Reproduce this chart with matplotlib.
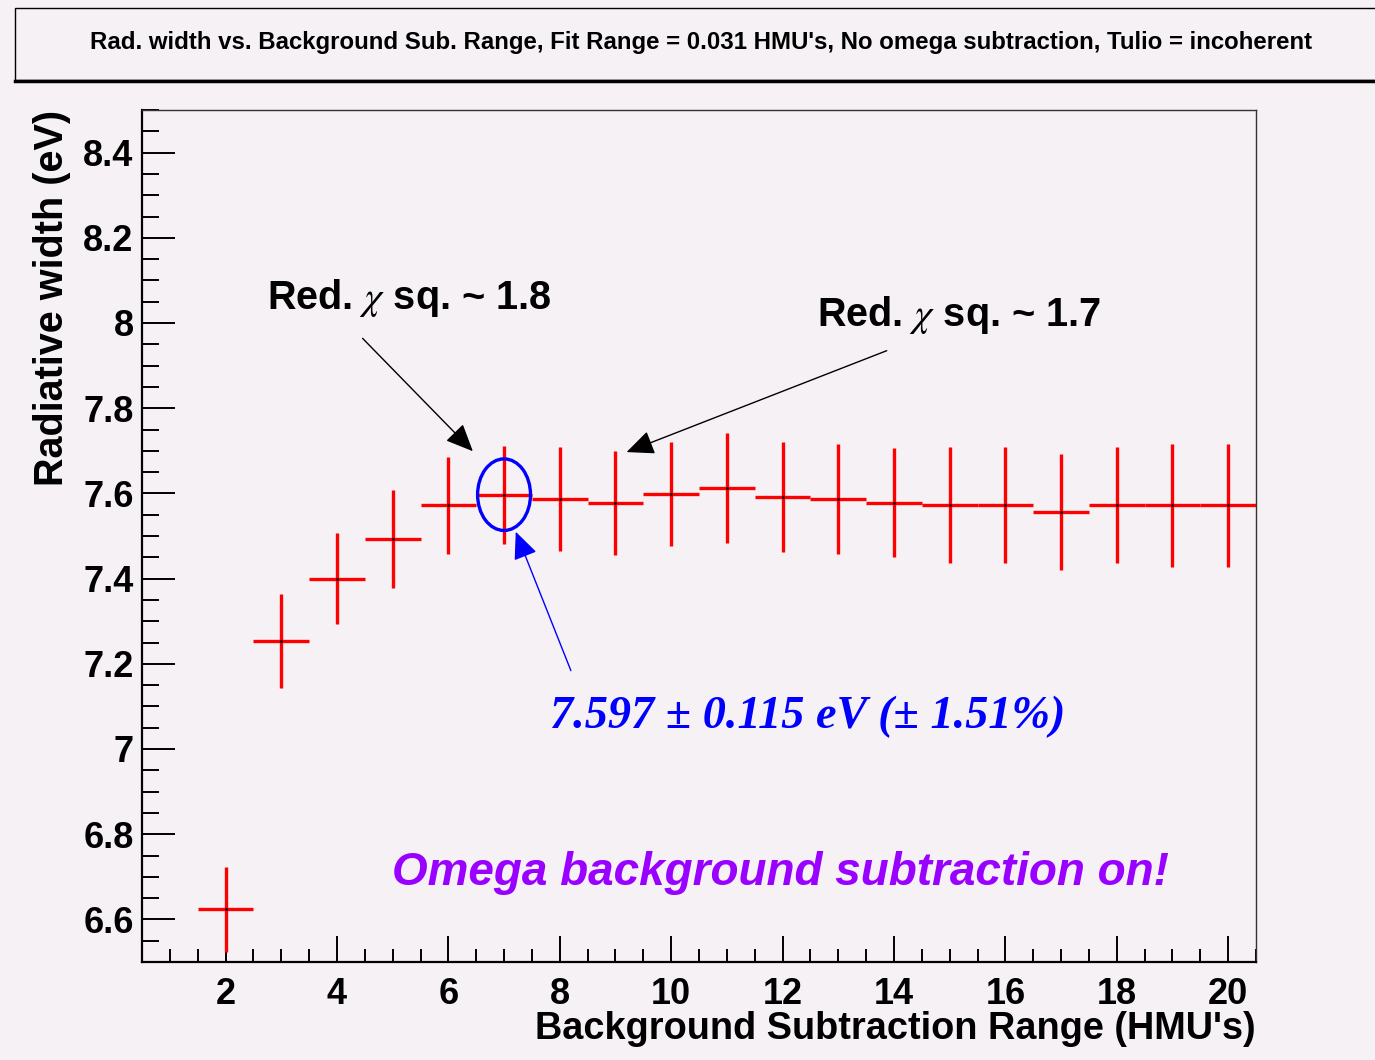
import numpy as np
import matplotlib
matplotlib.use("Agg")
import matplotlib.pyplot as plt
from matplotlib.patches import Ellipse, Rectangle
from matplotlib.ticker import MultipleLocator, FormatStrFormatter

# data
bg_range = [2, 3, 4, 5, 6, 7, 8, 9, 10, 11, 12, 13, 14, 15, 16, 17, 18, 19, 20]
rad_width = [6.624, 7.253, 7.400, 7.492, 7.572, 7.597, 7.586, 7.578, 7.598, 7.612,
             7.592, 7.587, 7.578, 7.572, 7.572, 7.556, 7.572, 7.572, 7.572]
rad_err = [0.100, 0.110, 0.106, 0.115, 0.114, 0.115, 0.122, 0.122, 0.122, 0.129,
           0.129, 0.129, 0.128, 0.136, 0.136, 0.136, 0.136, 0.144, 0.144]
bin_half = 0.5

title = ("Rad. width vs. Background Sub. Range, Fit Range = 0.031 HMU's, "
         "No omega subtraction, Tulio = incoherent")
chosen = 7  # highlighted bin

bg = "#f5f1f5"
plt.rcParams["mathtext.fontset"] = "stix"
sans = "Liberation Sans"
serif = "Liberation Serif"

fig = plt.figure(figsize=(13.75, 10.6), dpi=100, facecolor=bg)
ax = fig.add_axes([142/1375, 1 - 962/1060, 1114/1375, 852/1060])
ax.set_facecolor(bg)

ax.errorbar(bg_range, rad_width, yerr=rad_err, xerr=bin_half, fmt='.', color='black',
            markersize=2, ecolor='#ff0000', elinewidth=2.4, capsize=0, zorder=3)

ax.set_xlim(0.5, 20.5)
ax.set_ylim(6.5, 8.5)
ax.xaxis.set_major_locator(MultipleLocator(2))
ax.xaxis.set_minor_locator(MultipleLocator(0.5))
ax.yaxis.set_major_locator(MultipleLocator(0.2))
ax.yaxis.set_minor_locator(MultipleLocator(0.05))
ax.yaxis.set_major_formatter(FormatStrFormatter('%g'))
ax.xaxis.set_major_formatter(FormatStrFormatter('%g'))

ax.tick_params(axis='x', which='major', direction='in', length=19, width=1.4, pad=11,
               labelsize=26)
ax.tick_params(axis='x', which='minor', direction='in', length=9.5, width=1.4)
ax.tick_params(axis='y', which='major', direction='in', length=24, width=1.4, pad=6,
               labelsize=26)
ax.tick_params(axis='y', which='minor', direction='in', length=12, width=1.4)
for lab in ax.get_xticklabels() + ax.get_yticklabels():
    lab.set_fontfamily(sans)
    lab.set_fontweight('bold')

for side in ['left', 'bottom']:
    ax.spines[side].set_linewidth(1.6)
for side in ['top', 'right']:
    ax.spines[side].set_linewidth(1.0)
    ax.spines[side].set_color('#333333')

ax.set_xlabel("Background Subtraction Range (HMU's)", loc='right', fontsize=27.3,
              fontweight='bold', fontfamily=sans)
ax.xaxis.set_label_coords(1.0, -0.058)
ax.set_ylabel("Radiative width (eV)", loc='top', fontsize=28.5, fontweight='bold',
              fontfamily=sans)
ax.yaxis.set_label_coords(-0.064, 1.0)

# annotations
i = bg_range.index(chosen)
ax.add_patch(Ellipse((bg_range[i], rad_width[i]), 0.95, 0.168, fill=False,
                     edgecolor='#0000ff', linewidth=2.4, zorder=4))

black_arrow = dict(arrowstyle='-|>,head_length=1.7,head_width=0.75', color='black',
                   linewidth=1.0, shrinkA=0, shrinkB=0)
ax.annotate("", xy=(6.44, 7.699), xytext=(4.46, 7.964), arrowprops=black_arrow)
ax.annotate("", xy=(9.20, 7.697), xytext=(13.87, 7.935), arrowprops=black_arrow)
blue_arrow = dict(black_arrow, color='#0000ff')
ax.annotate("", xy=(7.21, 7.510), xytext=(8.20, 7.184), arrowprops=blue_arrow)

chi_label = r"Red. $\chi$ sq. ~ {}"
ax.text(2.74, 8.032, chi_label.format("1.8"), fontsize=28.5, fontweight='bold',
        fontfamily=sans, va='baseline', ha='left')
ax.text(12.62, 7.992, chi_label.format("1.7"), fontsize=28.5, fontweight='bold',
        fontfamily=sans, va='baseline', ha='left')
ax.text(7.82, 7.050, "7.597 \u00b1 0.115 eV (\u00b1 1.51%)", fontsize=33.3,
        fontweight='bold', fontstyle='italic', fontfamily=serif, color='#0000ff',
        va='baseline', ha='left')
ax.text(4.98, 6.681, "Omega background subtraction on!", fontsize=33,
        fontweight='bold', fontstyle='italic', fontfamily=sans, color='#9900ff',
        va='baseline', ha='left')

# title box
fig.patches.append(Rectangle((15/1375, 1 - 80/1060), 1.02, 72/1060,
                             transform=fig.transFigure, facecolor=bg,
                             edgecolor='black', linewidth=1.0))
fig.lines.append(plt.Line2D([15/1375, 1.0], [1 - 81/1060, 1 - 81/1060],
                            transform=fig.transFigure, color='black', linewidth=2.5))
fig.text(701/1375, 1 - 43/1060, title, ha='center', va='center', fontsize=17.3,
         fontweight='bold', fontfamily=sans)

fig.savefig("out.png", dpi=100, facecolor=bg)
